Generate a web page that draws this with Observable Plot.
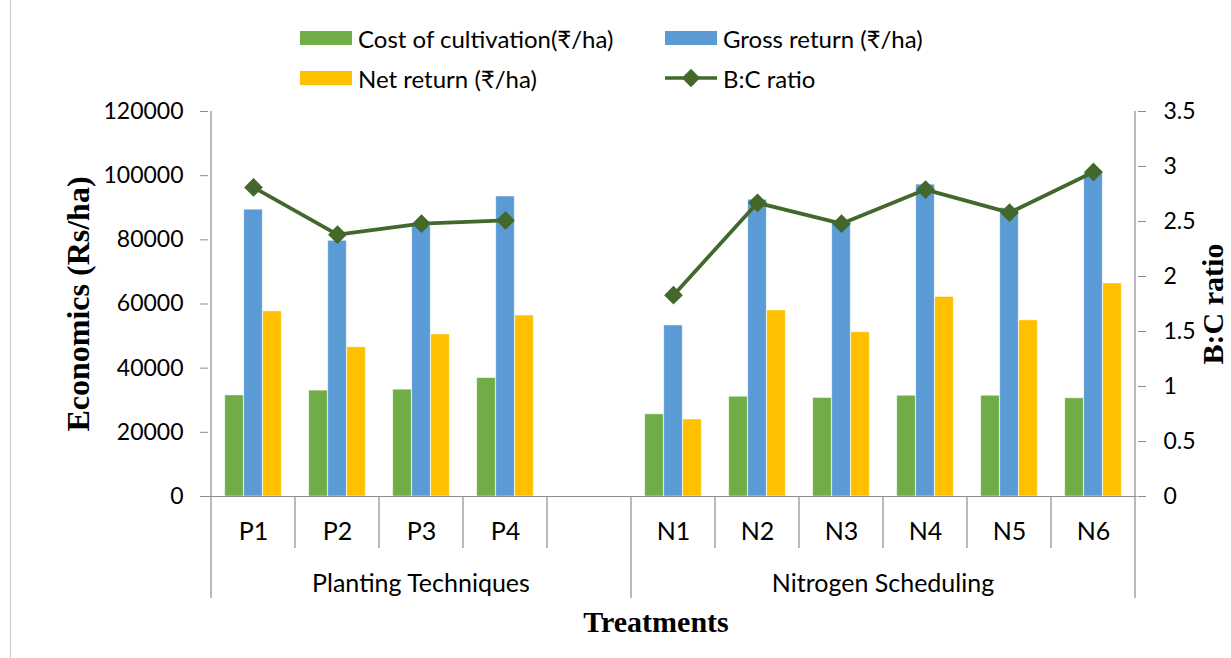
<!DOCTYPE html>
<html><head><meta charset="utf-8">
<script src="https://cdn.jsdelivr.net/npm/d3@7"></script>
<script src="https://cdn.jsdelivr.net/npm/@observablehq/plot@0.6"></script>
<style>
body{margin:0;background:#fff;font-family:Lato,"Open Sans",sans-serif;}
#wrap{position:relative;width:1231px;height:658px;overflow:hidden;background:#fff;}
#frame{position:absolute;left:10px;top:-2px;width:1400px;height:800px;border:1px solid #c8c8c8;pointer-events:none;}
#legend{position:relative;height:90px;}
.item{position:absolute;display:flex;align-items:center;font-size:24px;color:#000;white-space:nowrap;height:28px;}
.sw{width:52px;height:14px;margin-right:6px;}
#chart svg{display:block;}
</style></head>
<body><div id="wrap"><div id="frame"></div><div id="legend"></div><div id="chart"></div></div>
<script>
// ---- data ----
const groupNames = ["Planting Techniques", "Nitrogen Scheduling"];
const plantingTreatments = ["P1", "P2", "P3", "P4"];
const nitrogenTreatments = ["N1", "N2", "N3", "N4", "N5", "N6"];
const gapKey = " ";
const costOfCultivation = [31500, 33000, 33300, 36900, 25600, 31100, 30700, 31400, 31400, 30600];
const grossReturn      = [89400, 79700, 84200, 93500, 53300, 92500, 85200, 97200, 89900, 100900];
const netReturn        = [57700, 46500, 50500, 56400, 24000, 58000, 51200, 62200, 54900, 66400];
const bcRatio          = [2.81, 2.38, 2.48, 2.51, 1.83, 2.67, 2.48, 2.79, 2.58, 2.95];
const leftTicks = [0, 20000, 40000, 60000, 80000, 100000, 120000];
const rightTicks = [0, 0.5, 1, 1.5, 2, 2.5, 3, 3.5];
const seriesNames = ["Cost of cultivation(₹/ha)", "Gross return (₹/ha)", "Net return (₹/ha)", "B:C ratio"];
const colors = {cost: "#70ad47", gross: "#5b9bd5", net: "#ffc000", bc: "#43682b"};

// ---- derived table ----
const treatments = [...plantingTreatments, ...nitrogenTreatments];
const rows = treatments.map((t, i) => ({
  treatment: t,
  group: i < plantingTreatments.length ? groupNames[0] : groupNames[1],
  cost: costOfCultivation[i], gross: grossReturn[i], net: netReturn[i], bc: bcRatio[i]
}));
const xDomain = [...plantingTreatments, gapKey, ...nitrogenTreatments];
const yMax = 120000, rMax = 3.5, k = yMax / rMax;

// ---- layout ----
const W = 1231, H = 568, mL = 208, mR = 94, mT = 21, mB = 162;
const bw = (W - mL - mR) / xDomain.length;
const barW = 19, off = (bw - 3 * barW) / 2;
const inset = i => ({insetLeft: off + i * barW, insetRight: bw - off - (i + 1) * barW});
const axisGray = "#8c8c8c";
const serif = "'Liberation Serif', 'DejaVu Serif', serif";

// ---- legend ----
const legend = document.getElementById("legend");
const items = [
  {name: seriesNames[0], color: colors.cost, left: 300, top: 24, type: "bar"},
  {name: seriesNames[1], color: colors.gross, left: 665, top: 24, type: "bar"},
  {name: seriesNames[2], color: colors.net, left: 300, top: 64, type: "bar"},
  {name: seriesNames[3], color: colors.bc, left: 665, top: 64, type: "line"}
];
for (const it of items) {
  const d = document.createElement("div");
  d.className = "item";
  d.style.left = it.left + "px"; d.style.top = it.top + "px";
  if (it.type === "bar") {
    d.innerHTML = `<div class="sw" style="background:${it.color}"></div><span>${it.name}</span>`;
  } else {
    d.innerHTML = `<svg width="52" height="22" style="margin-right:6px"><line x1="0" x2="52" y1="11" y2="11" stroke="${it.color}" stroke-width="3.5"/><rect x="19.5" y="4.5" width="13" height="13" fill="${it.color}" transform="rotate(45 26 11)"/></svg><span>${it.name}</span>`;
  }
  legend.appendChild(d);
}

// ---- chart ----
const fmtR = d => String(+(d / k).toFixed(1));
const plot = Plot.plot({
  width: W, height: H,
  marginLeft: mL, marginRight: mR, marginTop: mT, marginBottom: mB,
  style: {fontFamily: "Lato, 'Open Sans', sans-serif", fontSize: "23px", color: "#000", background: "#fff", overflow: "visible"},
  x: {type: "band", domain: xDomain, paddingInner: 0, paddingOuter: 0},
  y: {domain: [0, yMax]},
  marks: [
    Plot.barY(rows, {x: "treatment", y: "cost", fill: colors.cost, stroke: "#fff", strokeOpacity: 0.6, strokeWidth: 0.8, ...inset(0)}),
    Plot.barY(rows, {x: "treatment", y: "gross", fill: colors.gross, stroke: "#fff", strokeOpacity: 0.6, strokeWidth: 0.8, ...inset(1)}),
    Plot.barY(rows, {x: "treatment", y: "net", fill: colors.net, stroke: "#fff", strokeOpacity: 0.6, strokeWidth: 0.8, ...inset(2)}),
    Plot.ruleY([0], {stroke: axisGray, strokeWidth: 1.2}),
    Plot.line(rows, {x: "treatment", y: d => d.bc * k, z: "group", stroke: colors.bc, strokeWidth: 3.8}),
    Plot.dot(rows, {x: "treatment", y: d => d.bc * k, symbol: "diamond2", fill: colors.bc, stroke: colors.bc, r: 7.5}),
    Plot.axisY(leftTicks, {anchor: "left", tickSize: 8, tickPadding: 17, fontSize: 23, stroke: axisGray, fill: "#000", tickFormat: d3.format("d"), label: null}),
    Plot.axisY(rightTicks.map(r => r * k), {anchor: "right", tickSize: 8, tickPadding: 18, fontSize: 23, stroke: axisGray, fill: "#000", tickFormat: fmtR, label: null}),
    Plot.axisX({tickSize: 0, tickPadding: 26, fontSize: 25, fill: "#000", label: null, tickFormat: d => d.trim()}),
    Plot.text(["Economics (Rs/ha)"], {frameAnchor: "left", dx: -130, rotate: -90, textAnchor: "middle", lineAnchor: "middle", fontSize: 32, fontWeight: "bold", fontFamily: serif, fill: "#000"}),
    Plot.text(["B:C ratio"], {frameAnchor: "right", dx: 76, rotate: -90, textAnchor: "middle", lineAnchor: "middle", fontSize: 30, fontWeight: "bold", fontFamily: serif, fill: "#000"}),
    Plot.text(["Treatments"], {frameAnchor: "bottom", dx: -17, dy: 126, lineAnchor: "middle", textAnchor: "middle", fontSize: 30, fontWeight: "bold", fontFamily: serif, fill: "#000"})
  ]
});

// ---- two-level category axis and axis lines, drawn from Plot's scales ----
const xs = plot.scale("x"), ys = plot.scale("y");
const y0 = ys.apply(0), yTop = ys.apply(yMax);
const xLeft = xs.apply(xDomain[0]), xRight = xs.apply(xDomain[xDomain.length - 1]) + xs.bandwidth;
const g = d3.select(plot).append("g").attr("stroke", axisGray).attr("stroke-width", 1.2);
g.append("line").attr("x1", xLeft).attr("x2", xLeft).attr("y1", yTop).attr("y2", y0);
g.append("line").attr("x1", xRight).attr("x2", xRight).attr("y1", yTop).attr("y2", y0);
const groupStarts = [plantingTreatments[0], nitrogenTreatments[0]];
xDomain.forEach((c, i) => {
  if (i === 0) return;
  const x = xs.apply(c);
  const isGroup = groupStarts.includes(c);
  g.append("line").attr("x1", x).attr("x2", x).attr("y1", y0).attr("y2", y0 + (isGroup ? 102 : 52));
});
g.append("line").attr("x1", xLeft).attr("x2", xLeft).attr("y1", y0).attr("y2", y0 + 102);
g.append("line").attr("x1", xRight).attr("x2", xRight).attr("y1", y0).attr("y2", y0 + 102);
const groupSpans = [
  {name: groupNames[0], a: xs.apply(plantingTreatments[0]), b: xs.apply(nitrogenTreatments[0])},
  {name: groupNames[1], a: xs.apply(nitrogenTreatments[0]), b: xRight}
];
d3.select(plot).append("g").selectAll("text").data(groupSpans).join("text")
  .attr("x", d => (d.a + d.b) / 2).attr("y", y0 + 86)
  .attr("text-anchor", "middle").attr("dominant-baseline", "central")
  .attr("font-size", 25).attr("fill", "#000").text(d => d.name);

document.getElementById("chart").appendChild(plot);
</script>
</body></html>
